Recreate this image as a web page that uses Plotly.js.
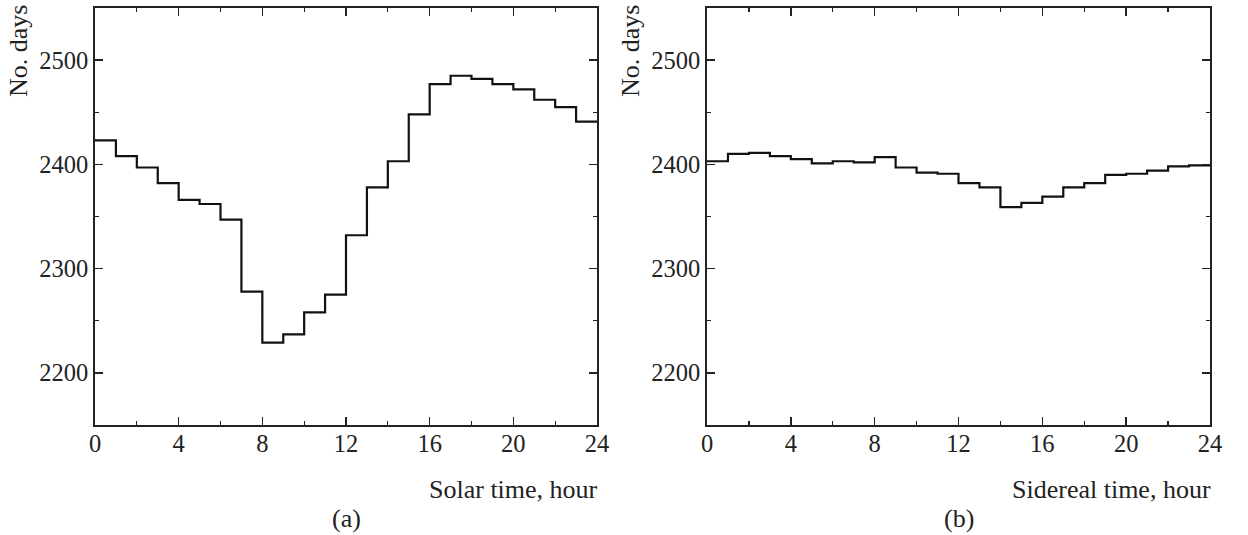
<!DOCTYPE html>
<html>
<head>
<meta charset="utf-8">
<script src="https://cdn.plot.ly/plotly-3.0.1.min.js"></script>
<style>html,body{margin:0;padding:0;background:#fff;}#chart{width:1248px;height:535px;}</style>
</head>
<body>
<div id="chart"></div>
<script>
// hour bin start (0..23)
const hours = [0,1,2,3,4,5,6,7,8,9,10,11,12,13,14,15,16,17,18,19,20,21,22,23];
// (a) solar time counts per hour
const solarDays = [2423,2408,2397,2382,2366,2362,2347,2278,2229,2237,2258,2275,2332,2378,2403,2448,2477,2485,2482,2477,2472,2462,2455,2441];
// (b) sidereal time counts per hour
const siderealDays = [2403,2410,2411,2408,2405,2401,2403,2402,2407,2397,2392,2391,2382,2378,2359,2363,2369,2378,2382,2390,2391,2394,2398,2399];
const xTickVals = [0,4,8,12,16,20,24];
const yTickVals = [2200,2300,2400,2500];
const xTitles = ["Solar time, hour", "Sidereal time, hour"];
const panelLabels = ["(a)", "(b)"];
const yTitle = "No. days";

function stepX(h){ return h.concat([h[h.length-1]+1]); }
function stepY(v){ return v.concat([v[v.length-1]]); }

const FONT = "Liberation Serif, Times New Roman, serif";
const line = {color:'#111', width:2.2, shape:'hv'};

const traces = [
  {x: stepX(hours), y: stepY(solarDays), type:'scatter', mode:'lines', line: line, xaxis:'x', yaxis:'y', hoverinfo:'skip'},
  {x: stepX(hours), y: stepY(siderealDays), type:'scatter', mode:'lines', line: line, xaxis:'x2', yaxis:'y2', hoverinfo:'skip'}
];

function xAxis(domain, anchor){
  return {domain: domain, anchor: anchor, range:[0,24], tickvals: xTickVals, ticks:'inside', ticklen:8, tickwidth:1.5,
    tickcolor:'#222', showline:true, linecolor:'#222', linewidth:1.8, mirror:'allticks', showgrid:false, zeroline:false,
    minor:{dtick:2, tick0:0, ticks:'inside', ticklen:4, tickwidth:1.2, tickcolor:'#222', showgrid:false},
    ticklabelstandoff:-4,
    tickfont:{family:FONT, size:24.5, color:'#222'}, fixedrange:true};
}
function yAxis(domain, anchor){
  return {domain: domain, anchor: anchor, range:[2150,2550], tickvals: yTickVals, ticks:'inside', ticklen:8, tickwidth:1.5,
    tickcolor:'#222', showline:true, linecolor:'#222', linewidth:1.8, mirror:'allticks', showgrid:false, zeroline:false,
    minor:{dtick:50, tick0:2150, ticks:'inside', ticklen:4, tickwidth:1.2, tickcolor:'#222', showgrid:false},
    tickfont:{family:FONT, size:24.5, color:'#222'}, fixedrange:true};
}

const xd1 = [95/1248, 597/1248], xd2 = [707/1248, 1210/1248];
const yd = [1-425/535, 1-8/535];

const annotations = [];
[xd1, xd2].forEach(function(d, i){
  annotations.push({xref:'paper', yref:'paper', x:d[1]+3/1248, y:1-489/535, xanchor:'right', yanchor:'middle',
    text: xTitles[i], showarrow:false, font:{family:FONT, size:26, color:'#222'}});
  annotations.push({xref:'paper', yref:'paper', x:(d[0]+d[1])/2, y:1-518/535, xanchor:'center', yanchor:'middle',
    text: panelLabels[i], showarrow:false, font:{family:FONT, size:26, color:'#222'}});
  annotations.push({xref:'paper', yref:'paper', x:d[0]-76/1248, y:1-3/535, xanchor:'center', yanchor:'top',
    text: yTitle, textangle:-90, showarrow:false, font:{family:FONT, size:26, color:'#222'}});
});

const layout = {
  width:1248, height:535, margin:{l:0,r:0,t:0,b:0}, paper_bgcolor:'#fff', plot_bgcolor:'#fff', showlegend:false,
  xaxis: xAxis(xd1,'y'), yaxis: yAxis(yd,'x'),
  xaxis2: xAxis(xd2,'y2'), yaxis2: yAxis(yd,'x2'),
  annotations: annotations
};
Plotly.newPlot('chart', traces, layout, {staticPlot:true, displayModeBar:false});
</script>
</body>
</html>
